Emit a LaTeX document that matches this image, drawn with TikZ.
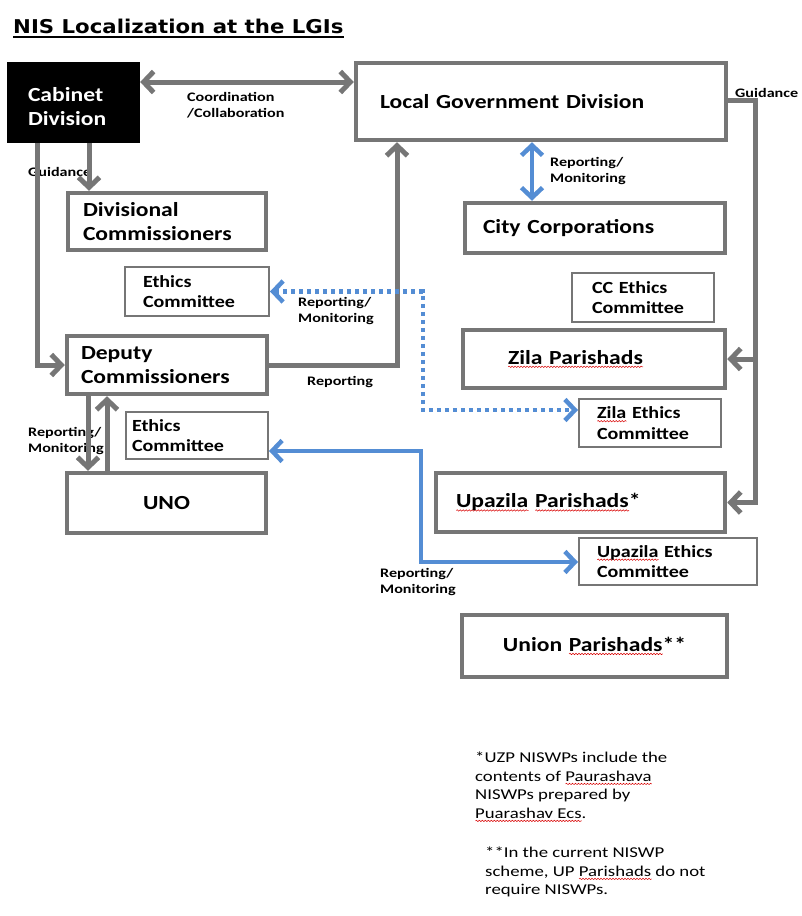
\documentclass[tikz,border=0pt]{standalone}
\usepackage{fontspec}
\setmainfont{Carlito}
\newfontfamily\boxff[FakeStretch=1.18]{Carlito}
\newfontfamily\lblff[FakeStretch=1.24]{Carlito}
\newfontfamily\fnff[FakeStretch=1.25]{Carlito}
\newfontfamily\titleff[FakeStretch=1.12]{DejaVu Sans}
\usetikzlibrary{arrows.meta,decorations.pathmorphing}
\definecolor{bgray}{RGB}{118,118,118}
\definecolor{rblue}{RGB}{84,141,212}
\newlength\sqlen
\newcommand\sqw[1]{\settowidth\sqlen{#1}\leavevmode\rlap{\raisebox{-3.5pt}{\tikz[x=1pt,y=1pt]\draw[red!85!black, line width=0.5pt, dash pattern=, decorate, decoration={snake, amplitude=0.7pt, segment length=3pt}] (0,0) -- (\the\sqlen,0);}}#1}
\newcommand\boxfont{\boxff\fontsize{20}{23.5}\selectfont\bfseries}
\newcommand\ecfont{\boxff\fontsize{17}{20.5}\selectfont\bfseries}
\newcommand\lblfont{\lblff\fontsize{13}{16}\selectfont\bfseries}
\newcommand\fnfont{\fnff\fontsize{15}{18.5}\selectfont}
\newcommand\pbox[8]{%
 \pgfmathsetmacro\bw{#5-#3}\pgfmathsetmacro\bh{#6-#4}%
 \pgfmathsetmacro\bx{(#3+#5)/2}\pgfmathsetmacro\by{(#4+#6)/2}%
 \pgfmathsetmacro\tw{#5-#3-2*#7}%
 \node[#1, minimum width=\bw pt, minimum height=\bh pt, inner xsep=#7pt, inner ysep=0pt, text width=\tw pt] (#2) at (\bx,\by) {#8};}
\tikzset{
 bigbox/.style={draw=bgray, line width=4.5pt, fill=white, align=left, font=\boxfont, text=black},
 smallbox/.style={draw=bgray, line width=2pt, fill=white, align=left, font=\ecfont, text=black},
 gline/.style={draw=bgray, line width=5pt},
 bline/.style={draw=rblue, line width=4.5pt},
 dline/.style={draw=rblue, line width=4.5pt, dash pattern=on 4pt off 4pt},
 tipend/.style={-{Straight Barb[length=10pt,width=21pt]}},
 tipboth/.style={{Straight Barb[length=10pt,width=21pt]}-{Straight Barb[length=10pt,width=21pt]}},
 lbl/.style={inner sep=0pt, align=left, font=\lblfont, text=black},
 fn/.style={inner sep=0pt, align=left, font=\fnfont, text=black, anchor=north west}
}
\begin{document}
\begin{tikzpicture}[x=1pt,y=-1pt]
\useasboundingbox (0,0) rectangle (802,916);
\fill[white] (0,0) rectangle (802,916);
% title
\node[inner sep=0pt, anchor=base west, font=\titleff\fontsize{19}{23}\selectfont\bfseries] (title) at (13,33) {NIS Localization at the LGIs};
\draw[line width=2pt] ([yshift=-4pt]title.base west) -- ([yshift=-4pt]title.base east);
% labels
\node[lbl, anchor=west] (coordlbl) at (187,105) {Coordination\\/Collaboration};
\node[lbl, anchor=west] (guid1) at (28,172) {Guidance};
\node[lbl, anchor=west] (guid2) at (735,93) {Guidance};
\node[lbl, anchor=west] (rm1) at (550,171) {Reporting/\\Monitoring};
\node[lbl, anchor=west] (rm2) at (298,311) {Reporting/\\Monitoring};
\node[lbl, anchor=west] (rep) at (307,382) {Reporting};
\node[lbl, anchor=west] (rm3) at (28,441) {Reporting/\\Monitoring};
\node[lbl, anchor=west] (rm4) at (380,582) {Reporting/\\Monitoring};
% boxes
\pbox{fill=black, draw=none, align=left, font=\boxfont, text=white}{cab}{7}{62}{140}{143}{21}{\rule{0pt}{22pt}Cabinet\\Division}
\pbox{bigbox}{lgd}{356}{63}{726}{140}{24}{Local Government Division}
\pbox{bigbox}{divc}{68}{193}{266}{250}{15}{Divisional\\Commissioners}
\pbox{smallbox}{ethics1}{125}{267}{269}{316}{18}{Ethics\\Committee}
\pbox{bigbox}{depc}{67}{336}{267}{394}{14}{Deputy\\Commissioners}
\pbox{smallbox}{ethics2}{126}{412}{268}{459}{6}{Ethics\\Committee}
\pbox{bigbox, align=center}{uno}{67}{473}{266}{533}{10}{UNO}
\pbox{bigbox}{cc}{465}{203}{725}{253}{18}{City Corporations}
\pbox{smallbox}{ccec}{572}{273}{714}{322}{20}{CC Ethics\\Committee}
\pbox{bigbox}{zila}{463}{330}{725}{388}{45}{\sqw{Zila Parishads}}
\pbox{smallbox}{zilaec}{579}{399}{721}{447}{18}{\sqw{Zila} Ethics\\Committee}
\pbox{bigbox}{upz}{436}{473}{725}{532}{20}{\sqw{Upazila} \sqw{Parishads}*}
\pbox{smallbox}{upzec}{579}{538}{757}{585}{18}{\sqw{Upazila} Ethics\\Committee}
\pbox{bigbox, align=center}{union}{462}{615}{727}{677}{10}{Union \sqw{Parishads}**}
% footnotes
\node[fn] (fn1) at (475,752) {*UZP NISWPs include the\\contents of \sqw{Paurashava}\\NISWPs prepared by\\\sqw{Puarashav Ecs}.};
\node[fn] (fn2) at (485,847) {**In the current NISWP\\scheme, UP \sqw{Parishads} do not\\require NISWPs.};
% connectors
\draw[gline, tipboth] ([yshift=20.5pt]cab.east) coordinate (c1) -- (lgd.west |- c1);
\draw[gline, tipend] ([xshift=15.5pt]cab.south) coordinate (c2) -- (divc.north -| c2);
\draw[gline, tipend] ([xshift=-36.5pt]cab.south) |- (depc.west);
\draw[gline, tipend] (depc.east) -| ([xshift=-144pt]lgd.south);
\draw[gline, tipend] ([xshift=-79pt]depc.south) coordinate (c3) -- (uno.north -| c3);
\draw[gline, tipend] ([xshift=-59.5pt]uno.north) coordinate (c4) -- (depc.south -| c4);
\path (upz.east) ++(28,0) coordinate (gd);
\draw[gline, tipend] ([yshift=1.5pt]lgd.east) -| (gd) -- (upz.east);
\draw[gline, tipend] (gd |- zila.east) -- (zila.east);
\draw[bline, tipboth] ([xshift=-9pt]lgd.south) coordinate (b1) -- (cc.north -| b1);
\coordinate (dk) at (423,410);
\draw[dline, tipboth] (ethics1.east) -| (dk) -- (zilaec.west |- dk);
\coordinate (bk1) at (421,451);
\coordinate (bk2) at (421,562);
\draw[bline, tipboth] (ethics2.east |- bk1) -- (bk1) -- (bk2) -- (upzec.west |- bk2);
\end{tikzpicture}
\end{document}
